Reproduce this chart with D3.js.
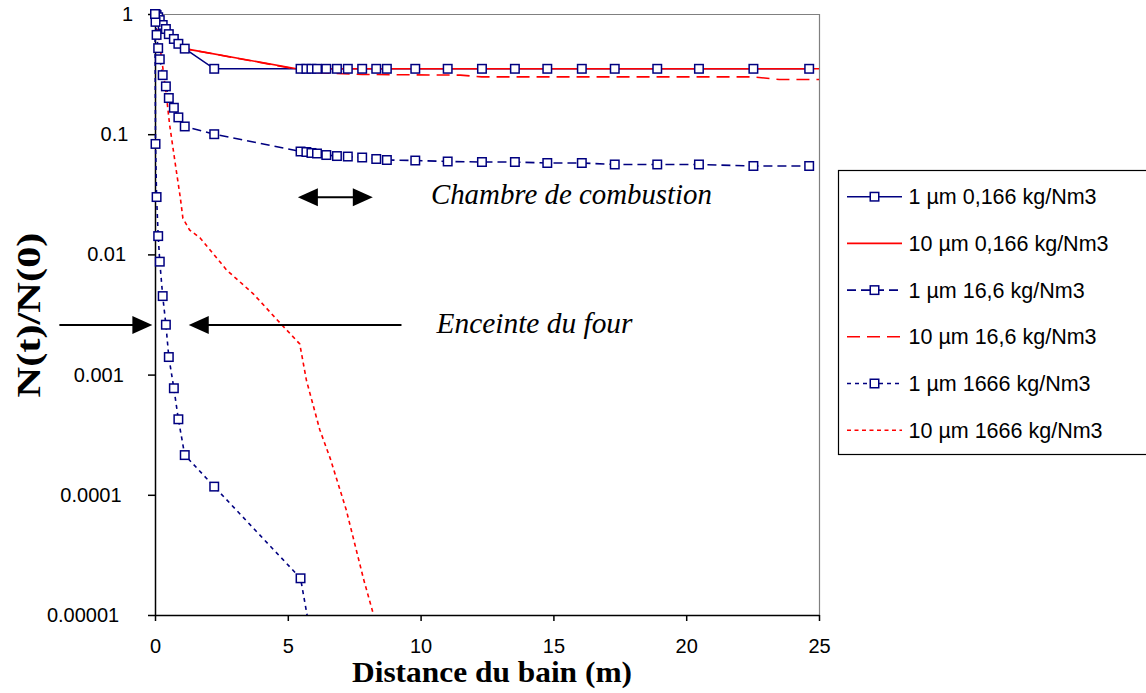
<!DOCTYPE html>
<html>
<head>
<meta charset="utf-8">
<script src="https://cdn.jsdelivr.net/npm/d3@7"></script>
<style>
  body { margin: 0; background: #fff; }
  svg { display: block; }
  .axis text { font-family: "Liberation Sans", Arial, sans-serif; font-size: 20px; fill: #000; }
  .axis path, .axis line { stroke: #000; stroke-width: 1.5; }
  .legend text { font-family: "Liberation Sans", Arial, sans-serif; font-size: 21.5px; fill: #000; }
</style>
</head>
<body>
<svg id="chart" width="1146" height="693"></svg>
<script>
// distances (m) shared by the 1 µm runs
var dist = [0, 0.02, 0.06, 0.12, 0.18, 0.29, 0.41, 0.52, 0.71, 0.88, 1.12, 2.23,
  5.48, 5.70, 5.89, 6.10, 6.45, 6.85, 7.26, 7.80, 8.33, 8.73, 9.80, 11.02, 12.31,
  13.55, 14.77, 16.07, 17.31, 18.91, 20.48, 22.53, 24.63];

// 1 µm 0,166 kg/Nm3
var n1_0166 = [1, 1, 0.98, 0.94, 0.89, 0.81, 0.75, 0.68, 0.62, 0.565, 0.515, 0.35,
  0.35, 0.35, 0.35, 0.35, 0.35, 0.35, 0.35, 0.35, 0.35, 0.35, 0.35, 0.35, 0.35,
  0.35, 0.35, 0.35, 0.35, 0.35, 0.35, 0.35, 0.35];
// 1 µm 16,6 kg/Nm3
var n1_166 = [1, 0.86, 0.67, 0.52, 0.42, 0.31, 0.25, 0.2, 0.166, 0.138, 0.116, 0.1,
  0.0718, 0.0711, 0.0698, 0.0691, 0.0671, 0.0658, 0.0652, 0.064, 0.0622, 0.061, 0.0604,
  0.0593, 0.0587, 0.0587, 0.0576, 0.0576, 0.056, 0.056, 0.056, 0.0544, 0.0544];
// 1 µm 1666 kg/Nm3 (last point falls below the axis)
var d1_1666 = [0, 0.02, 0.06, 0.12, 0.18, 0.29, 0.41, 0.52, 0.71, 0.88, 1.12, 2.23, 5.48, 5.85];
var n1_1666 = [1, 0.083, 0.030, 0.0142, 0.0087, 0.0045, 0.0026, 0.0014, 0.00077,
  0.000425, 0.000214, 0.000117, 0.0000202, 0.000007];

// 10 µm runs
var d10_0166 = [0, 0.18, 0.41, 0.71, 1.12, 5.33, 25];
var n10_0166 = [1, 0.89, 0.75, 0.62, 0.515, 0.35, 0.35];
var d10_166 = [0, 0.18, 0.41, 0.71, 1.12, 5.4, 6.0, 7.8, 11.5, 12.3, 22.5, 23.5, 25];
var n10_166 = [1, 0.89, 0.75, 0.62, 0.515, 0.345, 0.325, 0.314, 0.31, 0.30, 0.30, 0.285, 0.285];
var d10_1666 = [0, 0.1, 0.3, 0.45, 0.55, 0.8, 0.95, 1.05, 1.3, 1.7, 2.7, 3.7, 4.7,
  5.45, 5.7, 6.2, 6.6, 7.2, 7.85, 8.3];
var n10_1666 = [1, 0.75, 0.35, 0.19, 0.12, 0.05, 0.03, 0.02, 0.016, 0.0137, 0.0074,
  0.0047, 0.0027, 0.0018, 0.0009, 0.00035, 0.0002, 0.000075, 0.00002, 0.0000088];

var seriesNames = ["1 µm 0,166 kg/Nm3", "10 µm 0,166 kg/Nm3", "1 µm 16,6 kg/Nm3",
  "10 µm 16,6 kg/Nm3", "1 µm 1666 kg/Nm3", "10 µm 1666 kg/Nm3"];

var xTicks = [0, 5, 10, 15, 20, 25];
var yTicks = [1e-5, 1e-4, 1e-3, 1e-2, 1e-1, 1];
var yTickLabels = ["0.00001", "0.0001", "0.001", "0.01", "0.1", "1"];

var margin = {top: 14, left: 155},
    width = 664,
    height = 601;

var navy = "#000080", red = "#ff0000";

var series = [
  {name: seriesNames[0], pts: d3.zip(dist, n1_0166), color: navy, dash: null, marker: true},
  {name: seriesNames[1], pts: d3.zip(d10_0166, n10_0166), color: red, dash: null, marker: false},
  {name: seriesNames[2], pts: d3.zip(dist, n1_166), color: navy, dash: "9,5", marker: true},
  {name: seriesNames[3], pts: d3.zip(d10_166, n10_166), color: red, dash: "13,7", marker: false},
  {name: seriesNames[4], pts: d3.zip(d1_1666, n1_1666), color: navy, dash: "4,4", marker: true},
  {name: seriesNames[5], pts: d3.zip(d10_1666, n10_1666), color: red, dash: "4,3.5", marker: false}
];

var svg = d3.select("#chart");

var x = d3.scaleLinear().domain([0, 25]).range([0, width]);
var y = d3.scaleLog().domain([1e-5, 1]).range([height, 0]);

svg.append("defs").append("clipPath").attr("id", "plotclip")
  .append("rect")
    .attr("x", -8).attr("y", -8)
    .attr("width", width + 16).attr("height", height + 8);

var g = svg.append("g")
    .attr("transform", "translate(" + margin.left + "," + margin.top + ")");

// grey frame on top and right
g.append("path")
    .attr("d", "M0.5,0.5H" + (width + 0.5) + "V" + (height + 0.5))
    .attr("fill", "none")
    .attr("stroke", "#808080")
    .attr("stroke-width", 1.2);

g.append("g")
    .attr("class", "x axis")
    .attr("transform", "translate(0," + height + ")")
    .call(d3.axisBottom(x).tickValues(xTicks).tickSize(6).tickSizeOuter(0).tickPadding(18)
      .tickFormat(d3.format("d")));

// the longer labels sit a little further left in the original
g.append("g")
    .attr("class", "y axis")
    .call(d3.axisLeft(y).tickValues(yTicks).tickSize(7).tickSizeOuter(0).tickPadding(15)
      .tickFormat(function(d, i) { return yTickLabels[i]; }))
  .selectAll(".tick text")
    .attr("dx", function(d, i) { return -(yTickLabels[i].length - 1) * 2.3; });

var line = d3.line()
    .x(function(d) { return x(d[0]); })
    .y(function(d) { return y(d[1]); });

var plot = g.append("g").attr("clip-path", "url(#plotclip)");

plot.selectAll(".series")
    .data(series)
  .enter().append("path")
    .attr("class", "series")
    .attr("d", function(d) { return line(d.pts); })
    .attr("fill", "none")
    .attr("stroke", function(d) { return d.color; })
    .attr("stroke-width", 1.6)
    .attr("stroke-dasharray", function(d) { return d.dash; });

var msize = 8.5;
series.filter(function(s) { return s.marker; }).forEach(function(s) {
  plot.selectAll(null)
      .data(s.pts)
    .enter().append("rect")
      .attr("x", function(d) { return x(d[0]) - msize / 2; })
      .attr("y", function(d) { return y(d[1]) - msize / 2; })
      .attr("width", msize)
      .attr("height", msize)
      .attr("fill", "#fff")
      .attr("stroke", s.color)
      .attr("stroke-width", 1.5);
});

// annotations
var arrows = [
  {x1: 5.38, x2: 8.2, y: 0.0299, both: true},
  {x1: -3.6, x2: -0.1, y: 0.00259, both: false},
  {x1: 9.28, x2: 1.27, y: 0.00259, both: false}
];
var notes = [
  {text: "Chambre de combustion", x: 10.39, y: 0.0265, len: 281},
  {text: "Enceinte du four", x: 10.6, y: 0.0022, len: 196}
];

function head(tipX, tipY, dir) {
  var L = 20, W = 9;
  return "M" + tipX + "," + tipY + "L" + (tipX - dir * L) + "," + (tipY - W) +
    "L" + (tipX - dir * L) + "," + (tipY + W) + "Z";
}

arrows.forEach(function(a) {
  var px1 = x(a.x1), px2 = x(a.x2), py = y(a.y);
  var dir = px2 > px1 ? 1 : -1;
  g.append("line")
      .attr("x1", a.both ? px1 + dir * 18 : px1).attr("x2", px2 - dir * 18)
      .attr("y1", py).attr("y2", py)
      .attr("stroke", "#000").attr("stroke-width", 2);
  g.append("path").attr("d", head(px2, py, dir)).attr("fill", "#000");
  if (a.both) g.append("path").attr("d", head(px1, py, -dir)).attr("fill", "#000");
});

g.selectAll(".note")
    .data(notes)
  .enter().append("text")
    .attr("class", "note")
    .attr("x", function(d) { return x(d.x); })
    .attr("y", function(d) { return y(d.y); })
    .attr("textLength", function(d) { return d.len; })
    .attr("lengthAdjust", "spacingAndGlyphs")
    .style("font-family", "'Liberation Serif', 'Times New Roman', serif")
    .style("font-style", "italic")
    .style("font-size", "29px")
    .text(function(d) { return d.text; });

// axis titles
svg.append("text")
    .attr("x", 492)
    .attr("y", 682)
    .attr("text-anchor", "middle")
    .attr("textLength", 280)
    .attr("lengthAdjust", "spacingAndGlyphs")
    .style("font-family", "'Liberation Serif', 'Times New Roman', serif")
    .style("font-weight", "bold")
    .style("font-size", "30px")
    .text("Distance du bain (m)");

svg.append("text")
    .attr("transform", "translate(40,315) rotate(-90)")
    .attr("text-anchor", "middle")
    .attr("textLength", 165)
    .attr("lengthAdjust", "spacingAndGlyphs")
    .style("font-family", "'Liberation Serif', 'Times New Roman', serif")
    .style("font-weight", "bold")
    .style("font-size", "34px")
    .text("N(t)/N(0)");

// legend
var legend = svg.append("g")
    .attr("class", "legend")
    .attr("transform", "translate(838.5,170.5)");

legend.append("rect")
    .attr("width", 330)
    .attr("height", 284)
    .attr("fill", "#fff")
    .attr("stroke", "#000")
    .attr("stroke-width", 1.2);

var item = legend.selectAll(".item")
    .data(series)
  .enter().append("g")
    .attr("class", "item")
    .attr("transform", function(d, i) { return "translate(0," + (26.2 + i * 46.7) + ")"; });

item.append("line")
    .attr("x1", 8.5).attr("x2", 63.5)
    .attr("stroke", function(d) { return d.color; })
    .attr("stroke-width", 1.6)
    .attr("stroke-dasharray", function(d) { return d.dash; });

item.filter(function(d) { return d.marker; }).append("rect")
    .attr("x", 36 - msize / 2).attr("y", -msize / 2)
    .attr("width", msize).attr("height", msize)
    .attr("fill", "#fff")
    .attr("stroke", function(d) { return d.color; })
    .attr("stroke-width", 1.5);

item.append("text")
    .attr("x", 70)
    .attr("dy", "0.35em")
    .text(function(d) { return d.name; });
</script>
</body>
</html>
